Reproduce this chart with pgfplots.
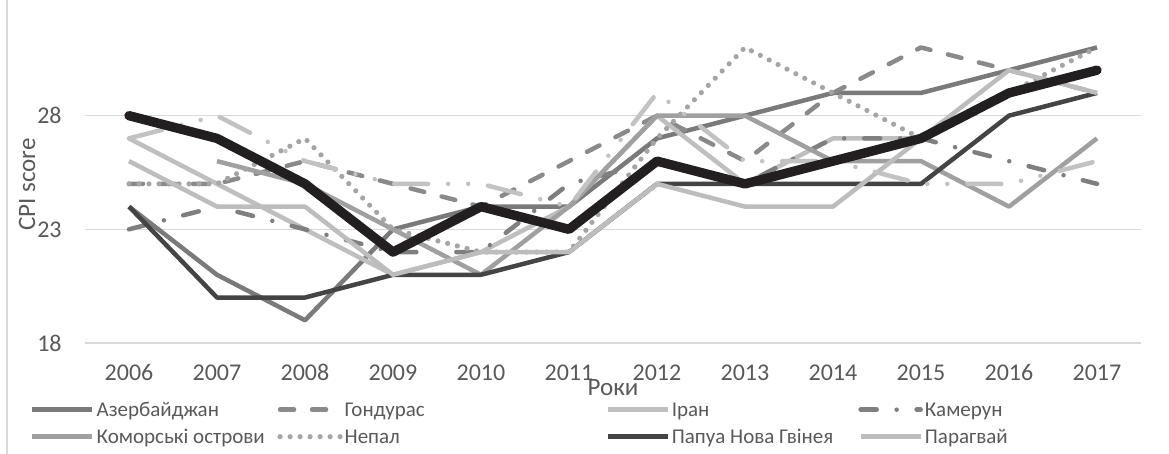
\documentclass[border=0pt]{standalone}
\usepackage{fontspec}
\setmainfont{Carlito}[Numbers={Lining,Monospaced}]
\usepackage{pgfplots}
\pgfplotsset{compat=1.18}
\usetikzlibrary{calc}

\definecolor{txtc}{HTML}{595959}
\definecolor{gridc}{HTML}{D9D9D9}
\definecolor{azc}{HTML}{7A7A7A}
\definecolor{hoc}{HTML}{8A8A8A}
\definecolor{irc}{HTML}{BFBFBF}
\definecolor{cac}{HTML}{7F7F7F}
\definecolor{coc}{HTML}{A0A0A0}
\definecolor{nec}{HTML}{A5A5A5}
\definecolor{pnc}{HTML}{444444}
\definecolor{pac}{HTML}{BDBDBD}
\definecolor{xc}{HTML}{C2C2C2}
\definecolor{uac}{HTML}{231F20}

\begin{document}
\begin{tikzpicture}[font=\fontsize{10.5bp}{12.6bp}\selectfont]
\begin{axis}[
  name=ax,
  scale only axis,
  width=528bp, height=170.5bp,
  xmin=2005.5, xmax=2017.5,
  ymin=18, ymax=33,
  xtick={2006,2007,...,2017},
  ytick={18,23,28},
  axis line style={draw=none},
  major tick length=0pt,
  tick style={draw=none},
  ymajorgrids,
  grid style={draw=gridc, line width=0.75bp},
  ticklabel style={text=txtc, font=\fontsize{12bp}{14bp}\selectfont,
    /pgf/number format/1000 sep={},
    /pgf/number format/assume math mode=true},
  xticklabel style={anchor=base, inner sep=0pt, yshift=-18.6bp},
  yticklabel style={anchor=east, inner sep=0pt, xshift=-11.5bp},
  xlabel={Роки},
  xlabel style={at={(axis description cs:0.5,0)}, anchor=center,
    inner sep=0pt, yshift=-22.5bp, text=txtc, font=\fontsize{12.5bp}{15bp}\selectfont},
  ylabel={CPI score},
  ylabel style={at={(axis description cs:-0.0549,0.465)}, anchor=center,
    inner sep=0pt, text=txtc, font=\fontsize{12.5bp}{15bp}\selectfont},
  legend columns=4,
  legend cell align=left,
  legend image code/.code={\draw[#1] (0bp,0.5bp) -- (30bp,0.5bp);},
  legend style={at={(0,0)}, anchor=north west, xshift=-27.6bp, yshift=-28.4bp,
    draw=none, fill=none, inner sep=0pt, column sep=1bp, row sep=3bp,
    text=txtc, nodes={inner sep=0pt, text height=8bp, text depth=2.5bp}},
  every axis plot/.append style={line width=2.25bp, line join=round},
]
% Азербайджан
\addplot[azc] coordinates {
  (2006,24) (2007,21) (2008,19) (2009,23) (2010,24) (2011,24)
  (2012,27) (2013,28) (2014,29) (2015,29) (2016,30) (2017,31)};
% Гондурас
\addplot[hoc, line cap=round, dash pattern=on 7bp off 9bp] coordinates {
  (2006,25) (2007,25) (2008,26) (2009,25) (2010,24) (2011,26)
  (2012,28) (2013,26) (2014,29) (2015,31) (2016,30) (2017,29)};
% Іран
\addplot[irc] coordinates {
  (2006,27) (2007,25) (2008,23) (2009,21) (2010,22) (2011,24)
  (2012,28) (2013,25) (2014,27) (2015,27) (2016,29) (2017,30)};
% Камерун
\addplot[cac, line cap=round, dash pattern=on 8bp off 10bp on 0bp off 10bp] coordinates {
  (2006,23) (2007,24) (2008,23) (2009,22) (2010,22) (2011,25)
  (2012,26) (2013,25) (2014,27) (2015,27) (2016,26) (2017,25)};
% Коморські острови
\addplot[coc] coordinates {
  (2007,26) (2008,25) (2009,23) (2010,21) (2011,24)
  (2012,28) (2013,28) (2014,26) (2015,26) (2016,24) (2017,27)};
% Непал
\addplot[nec, line width=2.6bp, line cap=round, dash pattern=on 0bp off 5bp] coordinates {
  (2006,25) (2007,25) (2008,27) (2009,23) (2010,22) (2011,22)
  (2012,27) (2013,31) (2014,29) (2015,27) (2016,29) (2017,31)};
% Папуа Нова Гвінея
\addplot[pnc] coordinates {
  (2006,24) (2007,20) (2008,20) (2009,21) (2010,21) (2011,22)
  (2012,25) (2013,25) (2014,25) (2015,25) (2016,28) (2017,29)};
% Парагвай
\addplot[pac] coordinates {
  (2006,26) (2007,24) (2008,24) (2009,21) (2010,22) (2011,22)
  (2012,25) (2013,24) (2014,24) (2015,27) (2016,30) (2017,29)};
% series without a visible legend entry
\addplot[xc, line cap=round, dash pattern=on 17bp off 10bp on 0bp off 10bp on 0bp off 10bp] coordinates {
  (2006,27) (2007,28) (2008,26) (2009,25) (2010,25) (2011,24)
  (2012,29) (2013,26) (2014,26) (2015,25) (2016,25) (2017,26)};
\addplot[uac, line width=4.7bp, line cap=round] coordinates {
  (2006,28) (2007,27) (2008,25) (2009,22) (2010,24) (2011,23)
  (2012,26) (2013,25) (2014,26) (2015,27) (2016,29) (2017,30)};
\addlegendentry{\makebox[89.4bp][l]{Азербайджан}}
\addlegendentry{\makebox[129.3bp][l]{Гондурас}}
\addlegendentry{\makebox[92.3bp][l]{Іран}}
\addlegendentry{Камерун}
\addlegendentry{\makebox[89.4bp][l]{Коморські острови}}
\addlegendentry{\makebox[129.3bp][l]{Непал}}
\addlegendentry{\makebox[92.3bp][l]{Папуа Нова Гвінея}}
\addlegendentry{Парагвай}
\coordinate (bl) at (rel axis cs:0,0);
\end{axis}
\draw[gridc, line width=0.75bp] ($(bl)+(-39bp,-55.5bp)$) -- ($(bl)+(-39bp,171.5bp)$);
\pgfresetboundingbox
\path ($(bl)+(-42.5bp,-55.5bp)$) rectangle ($(bl)+(542bp,171.5bp)$);
\end{tikzpicture}
\end{document}
